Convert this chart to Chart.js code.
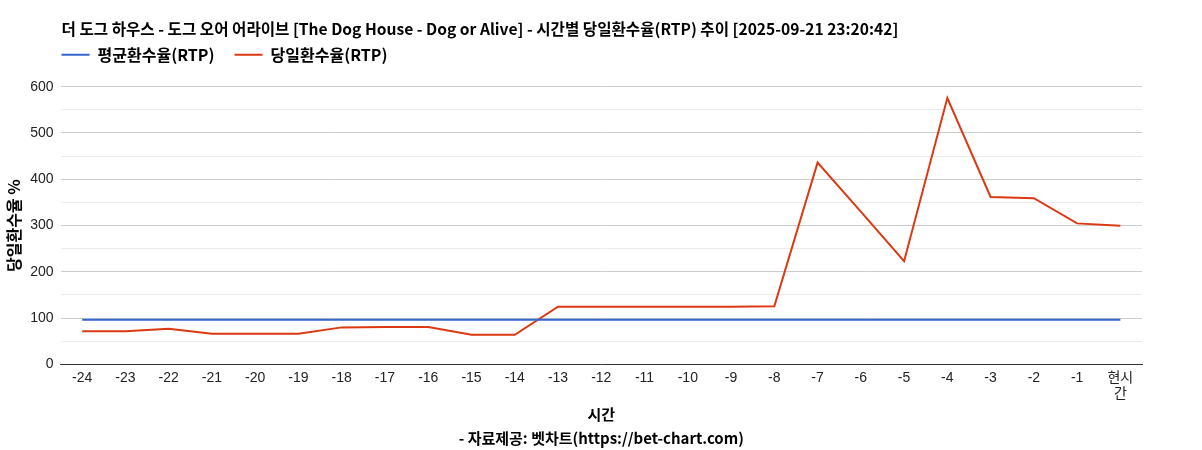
<!DOCTYPE html>
<html>
<head>
<meta charset="utf-8">
<script src="https://cdn.jsdelivr.net/npm/chart.js@4/dist/chart.umd.min.js"></script>
<style>
  html, body { margin: 0; padding: 0; background: #fff; }
  #wrap { width: 1202px; height: 450px; }
</style>
</head>
<body>
<div id="wrap"><canvas id="chart1"></canvas></div>
<script>
// 데이터
const hours = ['-24', '-23', '-22', '-21', '-20', '-19', '-18', '-17', '-16', '-15', '-14', '-13',
    '-12', '-11', '-10', '-9', '-8', '-7', '-6', '-5', '-4', '-3', '-2', '-1', ['현시', '간']];
const avgRtp = [96.5, 96.5, 96.5, 96.5, 96.5, 96.5, 96.5, 96.5, 96.5, 96.5, 96.5, 96.5,
    96.5, 96.5, 96.5, 96.5, 96.5, 96.5, 96.5, 96.5, 96.5, 96.5, 96.5, 96.5, 96.5];
const dayRtp = [71.5, 71.5, 77, 66, 66, 66, 80, 81, 81, 64, 64, 124.5,
    124.5, 124.5, 124.5, 124.8, 125.6, 436, 330, 223, 575.5, 361.7, 359, 304.7, 299.5];

const fontFam = 'Arial, "Liberation Sans", "Noto Sans CJK KR", sans-serif';
const krFont = '"Noto Sans CJK KR", Arial, sans-serif';

// 제목/범례를 차트 영역 왼쪽에 맞춤
const alignHeader = {
    id: 'alignHeader',
    afterLayout(chart) {
        const x0 = chart.chartArea.left + 1;
        chart.titleBlock.left = x0;
        chart.legend.left = x0 - chart.legend.options.labels.padding;
        chart.legend.top -= 14;
    }
};

const ctx1 = document.getElementById('chart1').getContext('2d');
new Chart(ctx1, {
    type: 'line',
    data: {
        labels: hours,
        datasets: [{
            label: '평균환수율(RTP)',
            data: avgRtp,
            borderColor: '#3366cc',
            backgroundColor: '#3366cc',
            borderWidth: 2,
            pointRadius: 0,
            fill: false
        }, {
            label: '당일환수율(RTP)',
            data: dayRtp,
            borderColor: '#dc3912',
            backgroundColor: '#dc3912',
            borderWidth: 2,
            pointRadius: 0,
            fill: false
        }]
    },
    plugins: [alignHeader],
    options: {
        responsive: true,
        maintainAspectRatio: false,
        animation: false,
        layout: { padding: { left: 4, right: 60, top: 12, bottom: -6 } },
        plugins: {
            title: {
                display: true,
                align: 'start',
                text: '더 도그 하우스 - 도그 오어 어라이브 [The Dog House - Dog or Alive] - 시간별 당일환수율(RTP) 추이 [2025-09-21 23:20:42]',
                color: '#000',
                font: { family: krFont, size: 15.6, weight: 'bold' },
                padding: { top: 8, bottom: 2 }
            },
            legend: {
                position: 'top',
                align: 'start',
                labels: {
                    usePointStyle: true,
                    pointStyle: 'line',
                    pointStyleWidth: 28,
                    padding: 20,
                    color: '#000',
                    font: { family: krFont, size: 16, weight: 'bold' }
                }
            },
            tooltip: { enabled: false }
        },
        scales: {
            x: {
                offset: true,
                grid: { display: false, drawTicks: false },
                border: { color: '#333', width: 1 },
                ticks: {
                    color: '#222',
                    maxRotation: 0,
                    autoSkip: false,
                    padding: 5,
                    font: { family: fontFam, size: 14 }
                },
                title: {
                    display: true,
                    text: ['시간', '- 자료제공: 벳차트(https://bet-chart.com)'],
                    color: '#000',
                    font: { family: krFont, size: 15, weight: 'bold', lineHeight: 1.6 },
                    padding: { top: -6, bottom: 6 }
                }
            },
            y: {
                min: 0,
                max: 600,
                ticks: {
                    stepSize: 50,
                    color: '#222',
                    padding: 7,
                    font: { family: fontFam, size: 14 },
                    callback: function(v) { return v % 100 === 0 ? v : ''; }
                },
                grid: {
                    drawTicks: false,
                    color: function(c) { return c.tick && c.tick.value % 100 === 0 ? '#cccccc' : '#ebebeb'; }
                },
                border: { display: false },
                title: {
                    display: true,
                    text: '당일환수율 %',
                    color: '#000',
                    font: { family: krFont, size: 16, weight: 'bold' },
                    padding: { top: 0, bottom: 0 }
                }
            }
        }
    }
});
</script>
</body>
</html>
